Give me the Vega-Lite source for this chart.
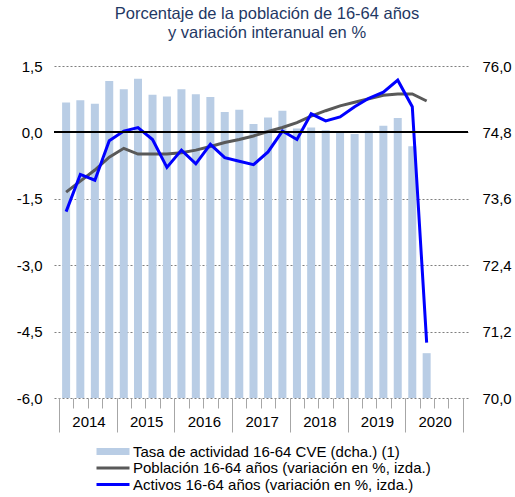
{
  "$schema": "https://vega.github.io/schema/vega-lite/v6.json",
  "width": 414,
  "height": 332,
  "autosize": "none",
  "padding": {"left": 54, "top": 66, "right": 47, "bottom": 99},
  "title": {
    "text": ["Porcentaje de la población de 16-64 años", "y variación interanual en %"],
    "font": "Liberation Sans",
    "fontSize": 16.5,
    "fontWeight": "normal",
    "color": "#1f3864",
    "lineHeight": 19,
    "offset": 18,
    "dx": 6,
    "anchor": "middle"
  },
  "config": {
    "view": {"stroke": null},
    "font": "Liberation Sans",
    "axis": {"labelFont": "Liberation Sans", "labelFontSize": 15, "labelColor": "#000000"},
    "legend": {"labelFont": "Liberation Sans", "labelFontSize": 15, "labelColor": "#000000"}
  },
  "data": {
    "values": [
      {"date": "2014-02-15", "tasa": 75.34, "pob": -1.35, "act": -1.79},
      {"date": "2014-05-16", "tasa": 75.38, "pob": -1.10, "act": -0.95},
      {"date": "2014-08-16", "tasa": 75.32, "pob": -0.85, "act": -1.08},
      {"date": "2014-11-15", "tasa": 75.73, "pob": -0.56, "act": -0.19},
      {"date": "2015-02-15", "tasa": 75.58, "pob": -0.36, "act": 0.03},
      {"date": "2015-05-16", "tasa": 75.77, "pob": -0.49, "act": 0.11},
      {"date": "2015-08-16", "tasa": 75.48, "pob": -0.49, "act": -0.16},
      {"date": "2015-11-15", "tasa": 75.45, "pob": -0.49, "act": -0.79},
      {"date": "2016-02-15", "tasa": 75.58, "pob": -0.46, "act": -0.40},
      {"date": "2016-05-16", "tasa": 75.49, "pob": -0.40, "act": -0.71},
      {"date": "2016-08-16", "tasa": 75.44, "pob": -0.32, "act": -0.27},
      {"date": "2016-11-15", "tasa": 75.17, "pob": -0.23, "act": -0.57},
      {"date": "2017-02-15", "tasa": 75.21, "pob": -0.16, "act": -0.65},
      {"date": "2017-05-16", "tasa": 74.95, "pob": -0.08, "act": -0.73},
      {"date": "2017-08-16", "tasa": 75.07, "pob": 0.02, "act": -0.44},
      {"date": "2017-11-15", "tasa": 75.19, "pob": 0.11, "act": 0.03},
      {"date": "2018-02-15", "tasa": 74.87, "pob": 0.22, "act": -0.16},
      {"date": "2018-05-16", "tasa": 74.89, "pob": 0.37, "act": 0.42},
      {"date": "2018-08-16", "tasa": 74.84, "pob": 0.49, "act": 0.26},
      {"date": "2018-11-15", "tasa": 74.82, "pob": 0.60, "act": 0.35},
      {"date": "2019-02-15", "tasa": 74.77, "pob": 0.68, "act": 0.58},
      {"date": "2019-05-16", "tasa": 74.83, "pob": 0.76, "act": 0.77},
      {"date": "2019-08-16", "tasa": 74.92, "pob": 0.84, "act": 0.91},
      {"date": "2019-11-15", "tasa": 75.06, "pob": 0.87, "act": 1.18},
      {"date": "2020-02-15", "tasa": 74.55, "pob": 0.87, "act": 0.58},
      {"date": "2020-05-16", "tasa": 70.81, "pob": 0.71, "act": -4.75}
    ]
  },
  "layer": [
    {
      "mark": {"type": "bar", "size": 8},
      "encoding": {
        "x": {
          "field": "date",
          "type": "temporal",
          "scale": {
            "type": "utc",
            "domain": [{"year": 2014, "month": 1, "date": 1, "utc": true}, {"year": 2021, "month": 1, "date": 1, "utc": true}]
          },
          "axis": {
            "orient": "bottom",
            "title": null,
            "labels": false,
            "domain": false,
            "grid": false,
            "tickSize": 10,
            "tickColor": "#a6a6a6",
            "values": [
              {"year": 2014, "month": 1, "date": 1, "utc": true}, {"year": 2014, "month": 4, "date": 1, "utc": true}, {"year": 2014, "month": 7, "date": 1, "utc": true}, {"year": 2014, "month": 10, "date": 1, "utc": true},
              {"year": 2015, "month": 1, "date": 1, "utc": true}, {"year": 2015, "month": 4, "date": 1, "utc": true}, {"year": 2015, "month": 7, "date": 1, "utc": true}, {"year": 2015, "month": 10, "date": 1, "utc": true},
              {"year": 2016, "month": 1, "date": 1, "utc": true}, {"year": 2016, "month": 4, "date": 1, "utc": true}, {"year": 2016, "month": 7, "date": 1, "utc": true}, {"year": 2016, "month": 10, "date": 1, "utc": true},
              {"year": 2017, "month": 1, "date": 1, "utc": true}, {"year": 2017, "month": 4, "date": 1, "utc": true}, {"year": 2017, "month": 7, "date": 1, "utc": true}, {"year": 2017, "month": 10, "date": 1, "utc": true},
              {"year": 2018, "month": 1, "date": 1, "utc": true}, {"year": 2018, "month": 4, "date": 1, "utc": true}, {"year": 2018, "month": 7, "date": 1, "utc": true}, {"year": 2018, "month": 10, "date": 1, "utc": true},
              {"year": 2019, "month": 1, "date": 1, "utc": true}, {"year": 2019, "month": 4, "date": 1, "utc": true}, {"year": 2019, "month": 7, "date": 1, "utc": true}, {"year": 2019, "month": 10, "date": 1, "utc": true},
              {"year": 2020, "month": 1, "date": 1, "utc": true}, {"year": 2020, "month": 4, "date": 1, "utc": true}, {"year": 2020, "month": 7, "date": 1, "utc": true}, {"year": 2020, "month": 10, "date": 1, "utc": true},
              {"year": 2021, "month": 1, "date": 1, "utc": true}
            ]
          }
        },
        "y": {
          "field": "tasa",
          "type": "quantitative",
          "scale": {"domain": [70, 76], "zero": false, "nice": false},
          "axis": {
            "orient": "right",
            "title": null,
            "values": [70, 71.2, 72.4, 73.6, 74.8, 76],
            "labelExpr": "replace(format(datum.value, '.1f'), '.', ',')",
            "domain": false,
            "ticks": false,
            "tickSize": 0,
            "grid": false,
            "labelPadding": 14
          }
        },
        "y2": {"datum": 70},
        "color": {
          "datum": "Tasa de actividad 16-64 CVE (dcha.) (1)",
          "scale": {
            "domain": ["Tasa de actividad 16-64 CVE (dcha.) (1)", "Población 16-64 años (variación en %, izda.)", "Activos 16-64 años (variación en %, izda.)"],
            "range": ["#b9cde5", "#595959", "#0000ff"]
          },
          "legend": {
            "title": null,
            "orient": "none",
            "legendX": 51.5,
            "legendY": 378,
            "direction": "vertical",
            "symbolType": "M-3.3,-0.7H3.3V0.7H-3.3Z",
            "symbolSize": 100,
            "labelOffset": 12.5,
            "labelLimit": 400,
            "rowPadding": 0.5,
            "encode": {
              "symbols": {
                "update": {
                  "shape": {"signal": "datum.value == 'Tasa de actividad 16-64 CVE (dcha.) (1)' ? 'M-3.3,-0.7H3.3V0.7H-3.3Z' : 'M-3.3,-0.3H3.3V0.3H-3.3Z'"},
                  "fill": {"scale": "color", "field": "value"},
                  "fillOpacity": {"value": 1},
                  "stroke": {"value": "transparent"},
                  "strokeWidth": {"value": 0}
                }
              }
            }
          }
        }
      }
    },
    {
      "layer": [
        {
          "mark": {"type": "line", "strokeWidth": 3},
          "encoding": {
            "x": {
              "field": "date",
              "type": "temporal",
              "axis": {
                "orient": "bottom",
                "title": null,
                "domain": false,
                "grid": false,
                "tickSize": 34,
                "tickColor": "#a6a6a6",
                "labelPadding": -18,
                "labelOffset": 29.5,
                "labelAlign": "center",
                "labelBaseline": "top",
                "labelExpr": "utcFormat(datum.value, '%Y') == '2021' ? '' : utcFormat(datum.value, '%Y')",
                "values": [
                  {"year": 2014, "month": 1, "date": 1, "utc": true}, {"year": 2015, "month": 1, "date": 1, "utc": true},
                  {"year": 2016, "month": 1, "date": 1, "utc": true}, {"year": 2017, "month": 1, "date": 1, "utc": true},
                  {"year": 2018, "month": 1, "date": 1, "utc": true}, {"year": 2019, "month": 1, "date": 1, "utc": true},
                  {"year": 2020, "month": 1, "date": 1, "utc": true}, {"year": 2021, "month": 1, "date": 1, "utc": true}
                ]
              }
            },
            "y": {
              "field": "pob",
              "type": "quantitative",
              "scale": {"domain": [-6, 1.5], "nice": false, "zero": false},
              "axis": {
                "title": null,
                "values": [-6, -4.5, -3, -1.5, 0, 1.5],
                "labelExpr": "replace(replace(format(datum.value, '.1f'), '.', ','), '\u2212', '-')",
                "domain": false,
                "ticks": false,
                "tickSize": 0,
                "grid": true,
                "gridDash": [2, 2],
                "gridColor": "#7f7f7f",
                "gridWidth": 1,
                "labelPadding": 12
              }
            },
            "color": {"datum": "Población 16-64 años (variación en %, izda.)"}
          }
        },
        {
          "mark": {"type": "line", "strokeWidth": 3},
          "encoding": {
            "x": {
              "field": "date",
              "type": "temporal",
              "axis": {
                "orient": "bottom",
                "title": null,
                "domain": false,
                "grid": false,
                "tickSize": 34,
                "tickColor": "#a6a6a6",
                "labelPadding": -18,
                "labelOffset": 29.5,
                "labelAlign": "center",
                "labelBaseline": "top",
                "labelExpr": "utcFormat(datum.value, '%Y') == '2021' ? '' : utcFormat(datum.value, '%Y')",
                "values": [
                  {"year": 2014, "month": 1, "date": 1, "utc": true}, {"year": 2015, "month": 1, "date": 1, "utc": true},
                  {"year": 2016, "month": 1, "date": 1, "utc": true}, {"year": 2017, "month": 1, "date": 1, "utc": true},
                  {"year": 2018, "month": 1, "date": 1, "utc": true}, {"year": 2019, "month": 1, "date": 1, "utc": true},
                  {"year": 2020, "month": 1, "date": 1, "utc": true}, {"year": 2021, "month": 1, "date": 1, "utc": true}
                ]
              }
            },
            "y": {"field": "act", "type": "quantitative"},
            "color": {"datum": "Activos 16-64 años (variación en %, izda.)"}
          }
        },
        {
          "mark": {"type": "rule", "color": "#000000", "strokeWidth": 1.2},
          "encoding": {"y": {"datum": 0, "type": "quantitative"}}
        }
      ]
    }
  ],
  "resolve": {"scale": {"y": "independent"}, "axis": {"x": "independent"}}
}
